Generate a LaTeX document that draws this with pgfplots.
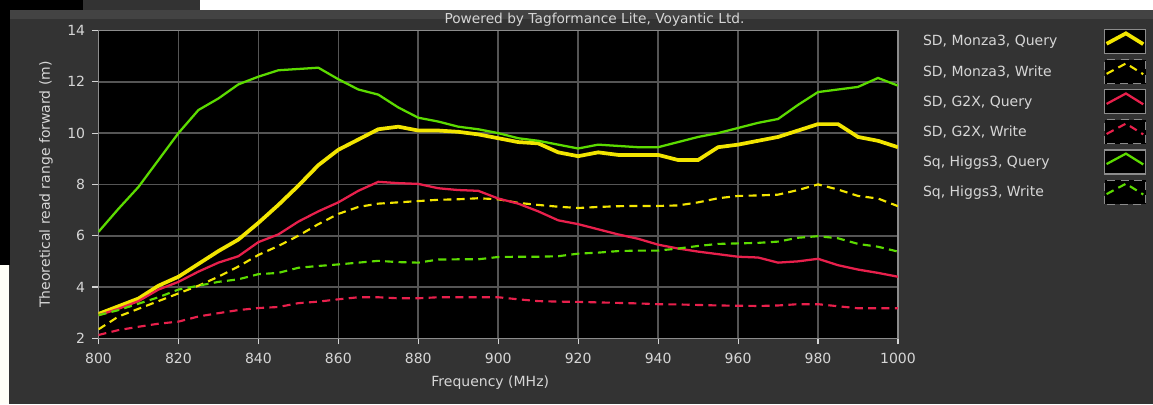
\documentclass[border=0pt]{standalone}
\usepackage{pgfplots}
\usepackage{pgfplotstable}
\pgfplotsset{compat=1.18}
\usepackage{fontspec}
\setmainfont{DejaVu Sans}
\definecolor{bgwin}{HTML}{333333}
\definecolor{cy}{HTML}{F2E500}
\definecolor{cr}{HTML}{E8204C}
\definecolor{cg}{HTML}{5CDB00}
\definecolor{gridc}{HTML}{555555}
\definecolor{txt}{HTML}{D6D6D6}
\definecolor{axc}{HTML}{8C8C8C}
\pgfplotstableread{
f    yq    yw   rq   rw   gq    gw
800  2.95  2.35 2.90 2.13 6.15  2.90
805  3.25  2.85 3.15 2.32 7.05  3.10
810  3.55  3.15 3.45 2.45 7.90  3.35
815  4.05  3.45 3.90 2.57 8.95  3.60
820  4.40  3.75 4.20 2.65 10.00 3.90
825  4.90  4.05 4.60 2.85 10.90 4.05
830  5.40  4.40 4.95 2.98 11.35 4.20
835  5.85  4.80 5.20 3.10 11.90 4.30
840  6.50  5.25 5.75 3.18 12.20 4.50
845  7.20  5.60 6.05 3.22 12.45 4.55
850  7.95  6.00 6.55 3.37 12.50 4.75
855  8.75  6.45 6.95 3.43 12.55 4.82
860  9.35  6.85 7.30 3.52 12.10 4.88
865  9.75  7.12 7.75 3.60 11.70 4.95
870  10.15 7.25 8.10 3.60 11.50 5.02
875  10.25 7.30 8.05 3.56 11.00 4.97
880  10.10 7.35 8.02 3.56 10.60 4.95
885  10.10 7.40 7.85 3.60 10.45 5.07
890  10.05 7.42 7.78 3.60 10.25 5.08
895  9.95  7.46 7.75 3.60 10.15 5.08
900  9.80  7.42 7.45 3.60 10.00 5.17
905  9.65  7.28 7.25 3.52 9.80  5.18
910  9.60  7.20 6.95 3.45 9.70  5.18
915  9.25  7.13 6.60 3.43 9.55  5.20
920  9.10  7.08 6.45 3.42 9.40  5.30
925  9.25  7.12 6.25 3.40 9.55  5.34
930  9.15  7.15 6.05 3.38 9.50  5.40
935  9.15  7.16 5.88 3.36 9.45  5.42
940  9.15  7.16 5.65 3.33 9.45  5.42
945  8.95  7.18 5.50 3.32 9.65  5.50
950  8.95  7.30 5.38 3.30 9.85  5.60
955  9.45  7.46 5.28 3.28 10.00 5.68
960  9.55  7.55 5.18 3.27 10.20 5.70
965  9.70  7.57 5.15 3.26 10.40 5.72
970  9.85  7.60 4.95 3.28 10.55 5.77
975  10.10 7.78 5.00 3.33 11.10 5.92
980  10.35 8.00 5.10 3.33 11.60 5.98
985  10.35 7.80 4.85 3.25 11.70 5.90
990  9.85  7.55 4.68 3.17 11.80 5.68
995  9.70  7.45 4.55 3.17 12.15 5.57
1000 9.45  7.15 4.40 3.17 11.85 5.38
}\data
\begin{document}
\begin{tikzpicture}
\useasboundingbox (0,0) rectangle (864.75pt,303pt);
\begin{scope}[x=0.75pt,y=0.75pt]
\fill[bgwin] (0,0) rectangle (1153,404);
\fill[white] (200,394) rectangle (1153,404);
\fill[black] (0,394) rectangle (83,404);
\fill[black] (0,139) rectangle (10,394);
\fill[white!97!yellow] (0,0) rectangle (9,139);
\fill[white!8!bgwin] (10,385) rectangle (1153,394);
\node[txt, font=\fontsize{10.3}{12}\selectfont, anchor=center] at (594.5,384) {Powered by Tagformance Lite, Voyantic Ltd.};
\end{scope}
\begin{axis}[
  at={(73.875pt,49.275pt)}, anchor=south west,
  scale only axis, width=599.6pt, height=230.85pt,
  xmin=800, xmax=1000, ymin=2, ymax=14,
  xtick={800,820,...,1000}, ytick={2,4,...,14},
  axis background/.style={fill=black},
  grid=major, major grid style={gridc, line width=1.2pt},
  axis line style={axc, line width=1pt},
  tick align=outside, xtick pos=left, ytick pos=left,
  major tick length=4.5pt, tick style={txt, line width=0.8pt},
  /pgf/number format/assume math mode=true,
  /pgf/number format/1000 sep={},
  tick label style={font=\fontsize{10.5}{12}\selectfont, color=txt},
  xticklabel style={yshift=-3pt},
  yticklabel style={xshift=-2pt},
  label style={font=\fontsize{10.5}{12}\selectfont, color=txt},
  xlabel={Frequency (MHz)},
  ylabel={Theoretical read range forward (m)},
  xlabel style={at={(axis description cs:0.49,-0.145)}, anchor=center},
  ylabel style={at={(axis description cs:-0.0657,0.5)}, anchor=center},
  legend plot pos=right, legend cell align=left,
  legend style={at={(axis description cs:1.031,1.005)}, anchor=north west,
    draw=none, fill=none, text=txt, font=\fontsize{10.5}{12}\selectfont,
    inner sep=0pt, nodes={inner sep=0pt}, column sep=35pt, row sep=3.75pt},
  legend image code/.code={
    \fill[black, draw=axc, line width=0.8pt] (0pt,-9pt) rectangle (30.75pt,9pt);
    \draw[#1] (1.5pt,-1.5pt) -- (16pt,6.3pt) -- (29pt,-1.8pt);
  },
]
\addplot[cy, line width=2.8pt] table[x=f,y=yq] {\data};
\addlegendentry{SD, Monza3, Query}
\addplot[cy, line width=1.6pt, dash pattern=on 6pt off 4pt] table[x=f,y=yw] {\data};
\addlegendentry{SD, Monza3, Write}
\addplot[cr, line width=1.7pt] table[x=f,y=rq] {\data};
\addlegendentry{SD, G2X, Query}
\addplot[cr, line width=1.6pt, dash pattern=on 6pt off 4pt] table[x=f,y=rw] {\data};
\addlegendentry{SD, G2X, Write}
\addplot[cg, line width=1.7pt] table[x=f,y=gq] {\data};
\addlegendentry{Sq, Higgs3, Query}
\addplot[cg, line width=1.6pt, dash pattern=on 6pt off 4pt] table[x=f,y=gw] {\data};
\addlegendentry{Sq, Higgs3, Write}
\end{axis}
\end{tikzpicture}
\end{document}
